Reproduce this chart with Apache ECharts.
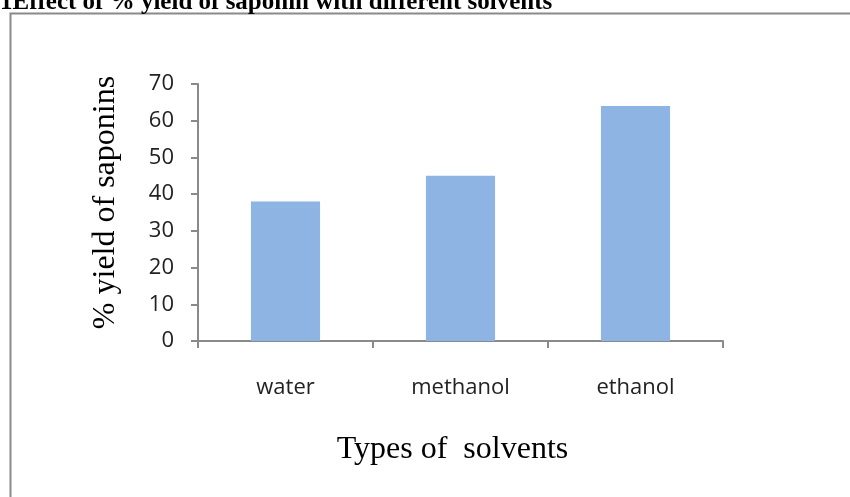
<!DOCTYPE html>
<html>
<head>
<meta charset="utf-8">
<script src="https://cdn.jsdelivr.net/npm/echarts@6/dist/echarts.min.js"></script>
<style>
  html, body { margin: 0; padding: 0; background: #fff; }
  #chart { width: 850px; height: 497px; }
</style>
</head>
<body>
<div id="chart"></div>
<script>
// Solvent types and the saponin yield (%) obtained with each
const categories = ['water', 'methanol', 'ethanol'];
const yieldValues = [38, 45, 64];
const yTicks = { min: 0, max: 70, interval: 10 };

const chart = echarts.init(document.getElementById('chart'), null, { renderer: 'canvas' });

chart.setOption({
  animation: false,
  backgroundColor: '#ffffff',
  graphic: [
    {
      type: 'rect',
      left: 8, top: 11,
      shape: { width: 900, height: 600 },
      style: { fill: 'none', stroke: '#8a8a8a', lineWidth: 2 },
      silent: true
    },
    {
      type: 'text',
      left: 0, top: -10,
      style: {
        text: '1Effect of % yield of saponin with different solvents',
        font: 'bold 25px "Liberation Serif", "Times New Roman", serif',
        fill: '#000'
      }
    }
  ],
  grid: { left: 198, right: 127, top: 84, bottom: 156 },
  xAxis: {
    type: 'category',
    data: categories,
    name: 'Types of  solvents',
    nameLocation: 'middle',
    nameGap: 93,
    nameTextStyle: { fontFamily: '"Liberation Serif", serif', fontSize: 32, color: '#000', padding: [0, 16, 0, 0] },
    axisLine: { lineStyle: { color: '#8a8a8a', width: 2 } },
    axisTick: { show: true, length: 7, alignWithLabel: false, lineStyle: { color: '#8a8a8a', width: 2 } },
    axisLabel: { margin: 36, fontFamily: '"Open Sans", sans-serif', fontSize: 22, color: '#222' }
  },
  yAxis: {
    type: 'value',
    min: yTicks.min, max: yTicks.max, interval: yTicks.interval,
    name: '% yield of saponins',
    nameLocation: 'middle',
    nameGap: 76,
    nameTextStyle: { fontFamily: '"Liberation Serif", serif', fontSize: 32, color: '#000', padding: [0, 0, 0, 20] },
    axisLine: { show: true, lineStyle: { color: '#8a8a8a', width: 2 } },
    axisTick: { show: true, length: 7, lineStyle: { color: '#8a8a8a', width: 2 } },
    splitLine: { show: false },
    axisLabel: { margin: 24, fontFamily: '"Open Sans", sans-serif', fontSize: 22, color: '#222' }
  },
  series: [{
    type: 'bar',
    data: yieldValues,
    barWidth: '39.5%',
    itemStyle: { color: '#8eb4e3' }
  }]
});
</script>
</body>
</html>
